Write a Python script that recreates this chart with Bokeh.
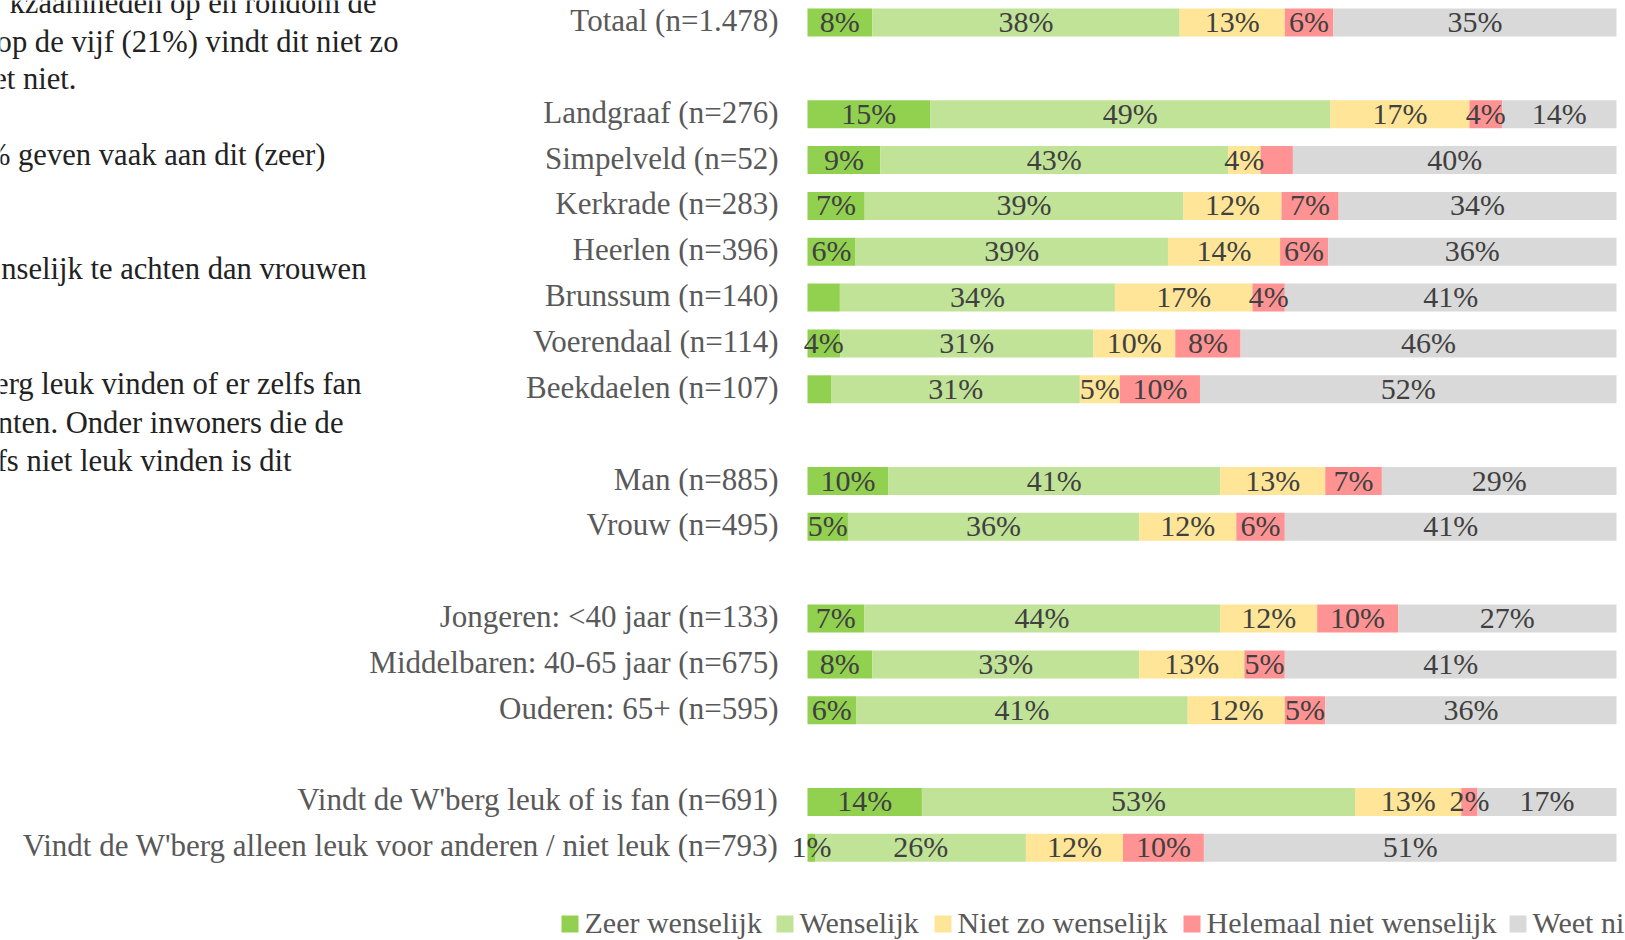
import numpy as np
from bokeh.plotting import figure
from bokeh.models import Range1d, ColumnDataSource
from bokeh.core.properties import value
from bokeh.embed import file_html
from bokeh.resources import INLINE

# ---------------- data ----------------
groups = [
    ["Totaal (n=1.478)"],
    ["Landgraaf (n=276)", "Simpelveld (n=52)", "Kerkrade (n=283)", "Heerlen (n=396)",
     "Brunssum (n=140)", "Voerendaal (n=114)", "Beekdaelen (n=107)"],
    ["Man (n=885)", "Vrouw (n=495)"],
    ["Jongeren: <40 jaar (n=133)", "Middelbaren: 40-65 jaar (n=675)", "Ouderen: 65+ (n=595)"],
    ["Vindt de W'berg leuk of is fan (n=691)",
     "Vindt de W'berg alleen leuk voor anderen / niet leuk (n=793)"],
]
series_names = ["Zeer wenselijk", "Wenselijk", "Niet zo wenselijk",
                "Helemaal niet wenselijk", "Weet niet"]
zeer_wenselijk = [8, 15, 9, 7, 6, 4, 4, 3, 10, 5, 7, 8, 6, 14, 1]
wenselijk = [38, 49, 43, 39, 39, 34, 31, 31, 41, 36, 44, 33, 41, 53, 26]
niet_zo_wenselijk = [13, 17, 4, 12, 14, 17, 10, 5, 13, 12, 12, 13, 12, 13, 12]
helemaal_niet = [6, 4, 4, 7, 6, 4, 8, 10, 7, 6, 10, 5, 5, 2, 10]
weet_niet = [35, 14, 40, 34, 36, 41, 46, 52, 29, 41, 27, 41, 36, 17, 51]
# labels that are not shown in the chart (series index, row index)
hidden_labels = [(3, 2), (0, 5), (0, 7)]

colors = ["#92D050", "#C0E398", "#FFE597", "#FF9393", "#D9D9D9"]

# ---------------- layout ----------------
W, H = 1625, 940
PAGE_OFF = 0
X0 = 807.0          # page x of 0 %
PX_PCT = 8.09       # px per percent
Y0 = 22.0           # page y of first row centre
SLOT = 45.85        # px per row slot

def dx(px):
    return (px - X0) / PX_PCT

def dy(py):
    return (py - Y0) / SLOT

p = figure(width=W, height=H, output_backend="svg", toolbar_location=None,
           x_range=Range1d(dx(PAGE_OFF), dx(PAGE_OFF + W)),
           y_range=Range1d(dy(PAGE_OFF + H), dy(PAGE_OFF)),
           min_border=0, outline_line_color=None)
p.axis.visible = False
p.grid.visible = False
p.background_fill_color = "white"
p.border_fill_color = "white"

# row positions (blank slot between groups)
cats, ys = [], []
slot = 0
for gi, g in enumerate(groups):
    if gi > 0:
        slot += 1
    for c in g:
        cats.append(c)
        ys.append(slot)
        slot += 1
ys = np.array(ys, dtype=float)

vals = np.array([zeer_wenselijk, wenselijk, niet_zo_wenselijk, helemaal_niet, weet_niet], dtype=float)
tot = vals.sum(axis=0)
norm = vals / tot * 100.0
lefts = np.vstack([np.zeros(len(cats)), np.cumsum(norm, axis=0)[:-1]])
rights = lefts + norm

bar_h = 28.0 / SLOT
FONT = value("Liberation Serif")

for si in range(5):
    src = ColumnDataSource(dict(y=ys, left=lefts[si], right=rights[si]))
    p.hbar(y="y", left="left", right="right", height=bar_h, source=src,
           fill_color=colors[si], line_color=None)

# percentage labels
lx, ly, lt = [], [], []
for si in range(5):
    for ri in range(len(cats)):
        if (si, ri) in hidden_labels:
            continue
        lx.append((lefts[si][ri] + rights[si][ri]) / 2)
        ly.append(ys[ri])
        lt.append(f"{int(vals[si][ri])}%")
p.text(x=lx, y=ly, text=lt, text_font=FONT, text_font_size="30px",
       text_color="#404040", text_align="center", text_baseline="middle",
       y_offset=-1)

# category labels
p.text(x=[dx(778)] * len(cats), y=list(ys), text=cats, text_font=FONT,
       text_font_size="31px", text_color="#595959", text_align="right",
       text_baseline="middle", y_offset=-2)

# paragraph text at left (partly cut off)
para_lines = ["kzaamheden op en rondom de", "op de vijf (21%) vindt dit niet zo", "et niet.",
              "% geven vaak aan dit (zeer)", "nselijk te achten dan vrouwen",
              "erg leuk vinden of er zelfs fan", "nten. Onder inwoners die de",
              "fs niet leuk vinden is dit"]
para_right = [376, 398, 76, 325, 366, 361, 343, 291]
para_mid = [2, 41, 78, 154, 268, 383, 422, 460]
p.text(x=[dx(v) for v in para_right], y=[dy(v) for v in para_mid], text=para_lines,
       text_font=FONT, text_font_size="30.6px", text_color="#222222",
       text_align="right", text_baseline="middle")

# legend
leg_sq = [561, 776, 934, 1183, 1509]
leg_bottom = 932
p.quad(left=[dx(v) for v in leg_sq], right=[dx(v + 17) for v in leg_sq],
       top=[dy(leg_bottom - 17)] * 5, bottom=[dy(leg_bottom)] * 5,
       fill_color=colors, line_color=None)
p.text(x=[dx(v + 23) for v in leg_sq], y=[dy(leg_bottom - 10)] * 5, text=series_names,
       text_font=FONT, text_font_size="30px", text_color="#595959",
       text_align="left", text_baseline="middle")

open("out.html", "w").write(file_html(p, INLINE))
